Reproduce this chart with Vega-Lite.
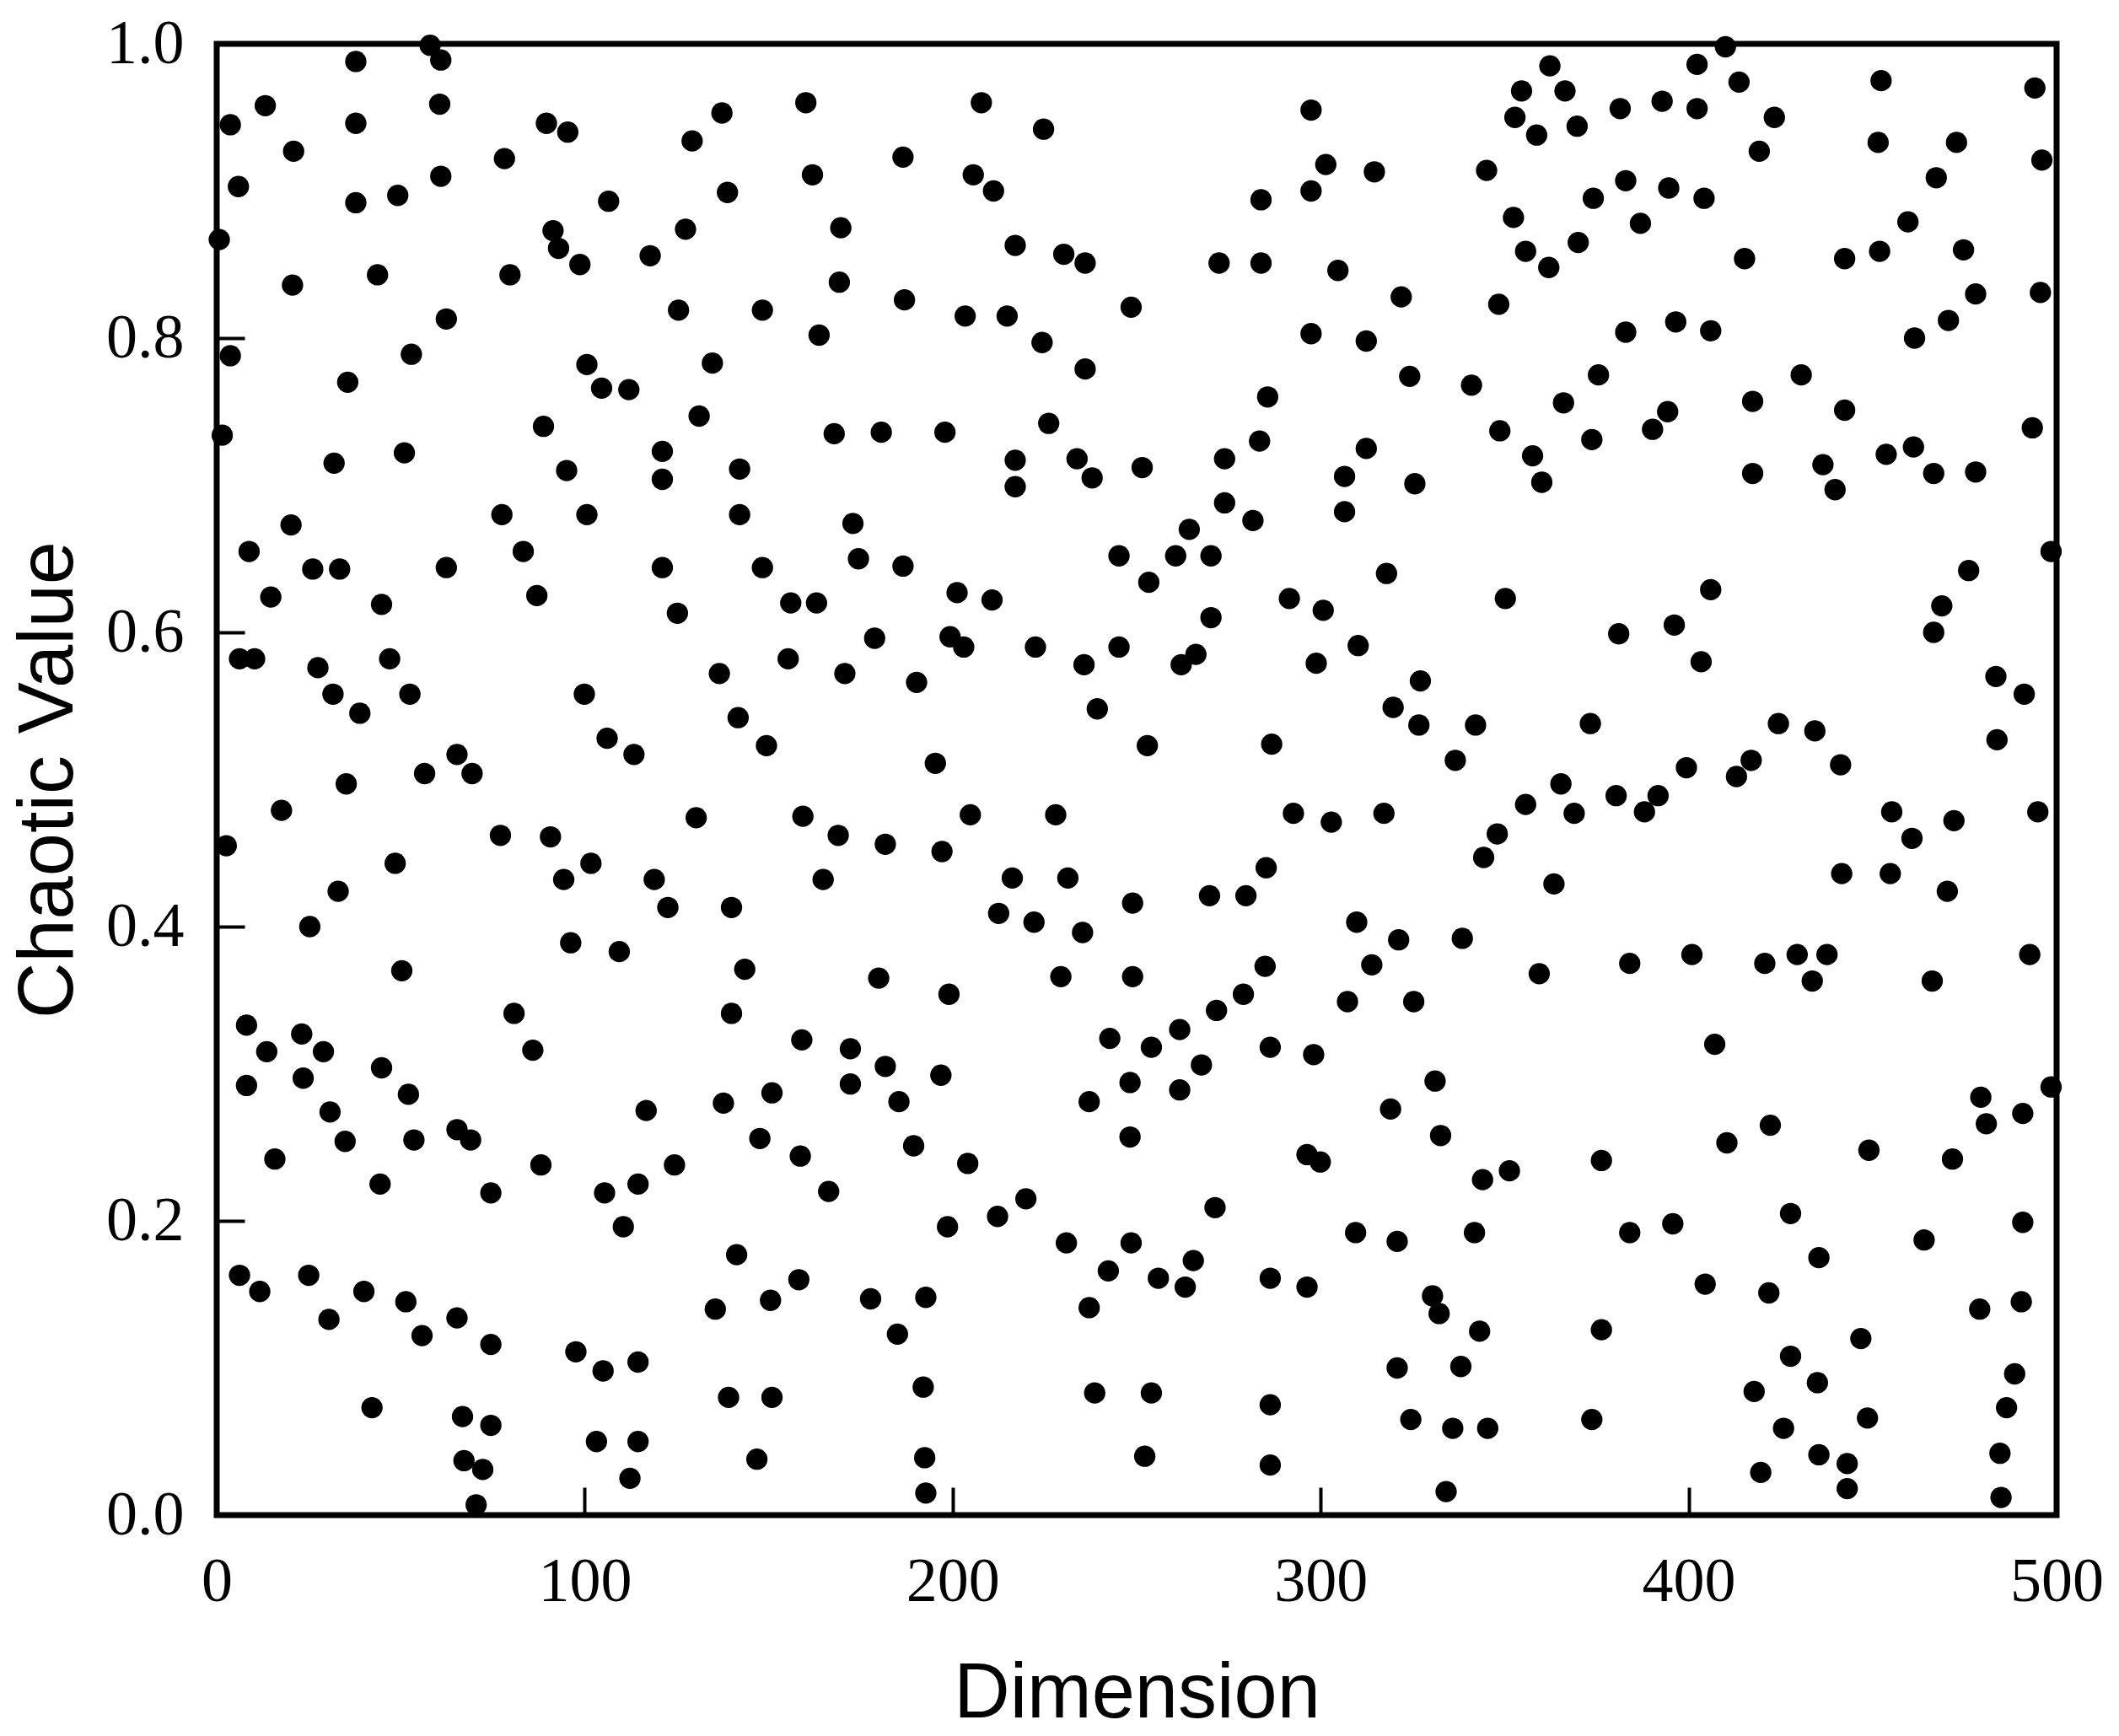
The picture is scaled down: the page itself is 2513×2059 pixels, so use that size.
{
  "$schema": "https://vega.github.io/schema/vega-lite/v6.json",
  "autosize": "none",
  "width": 2182,
  "height": 1745,
  "padding": {"left": 257, "top": 52, "right": 74, "bottom": 262},
  "background": "white",
  "config": {
    "view": {"stroke": "black", "strokeWidth": 7},
    "axis": {
      "grid": false,
      "domain": false,
      "tickColor": "black",
      "tickWidth": 4,
      "tickSize": -33,
      "labelFont": "Liberation Serif",
      "labelFontSize": 74,
      "labelColor": "black",
      "titleFont": "Liberation Sans",
      "titleFontSize": 92,
      "titleFontWeight": "normal",
      "titleColor": "black"
    }
  },
  "data": {"values": [
{"d":0.7,"v":0.867},{"d":1.5,"v":0.734},{"d":2.6,"v":0.455},{"d":3.7,"v":0.945},{"d":3.7,"v":0.788},{"d":5.9,"v":0.903},{"d":6.2,"v":0.582},{"d":6.2,"v":0.163},{"d":8.1,"v":0.333},{"d":8.1,"v":0.292},
{"d":8.8,"v":0.655},{"d":10.3,"v":0.582},{"d":11.7,"v":0.152},{"d":13.2,"v":0.958},{"d":13.6,"v":0.315},{"d":14.7,"v":0.624},{"d":15.8,"v":0.242},{"d":17.6,"v":0.479},{"d":20.2,"v":0.673},{"d":20.6,"v":0.836},
{"d":20.9,"v":0.927},{"d":23.1,"v":0.327},{"d":23.5,"v":0.297},{"d":25.0,"v":0.163},{"d":25.3,"v":0.400},{"d":26.1,"v":0.643},{"d":27.5,"v":0.576},{"d":29.0,"v":0.315},{"d":30.5,"v":0.133},{"d":30.8,"v":0.274},
{"d":31.6,"v":0.558},{"d":31.9,"v":0.715},{"d":33.0,"v":0.424},{"d":33.4,"v":0.643},{"d":34.9,"v":0.254},{"d":35.2,"v":0.497},{"d":35.6,"v":0.770},{"d":37.8,"v":0.988},{"d":37.8,"v":0.946},{"d":37.8,"v":0.892},
{"d":38.9,"v":0.545},{"d":40.0,"v":0.152},{"d":42.2,"v":0.073},{"d":43.7,"v":0.843},{"d":44.4,"v":0.225},{"d":44.8,"v":0.304},{"d":44.8,"v":0.619},{"d":47.0,"v":0.582},{"d":48.5,"v":0.443},{"d":49.2,"v":0.897},
{"d":50.3,"v":0.370},{"d":51.0,"v":0.722},{"d":51.4,"v":0.145},{"d":52.1,"v":0.286},{"d":52.5,"v":0.558},{"d":52.9,"v":0.789},{"d":53.6,"v":0.255},{"d":55.8,"v":0.122},{"d":56.5,"v":0.504},{"d":58.0,"v":0.999},
{"d":60.6,"v":0.959},{"d":60.9,"v":0.989},{"d":60.9,"v":0.910},{"d":62.4,"v":0.813},{"d":62.4,"v":0.644},{"d":65.3,"v":0.517},{"d":65.3,"v":0.262},{"d":65.3,"v":0.134},{"d":66.8,"v":0.067},{"d":67.2,"v":0.037},
{"d":69.0,"v":0.255},{"d":69.4,"v":0.504},{"d":70.5,"v":0.007},{"d":72.3,"v":0.031},{"d":74.5,"v":0.219},{"d":74.5,"v":0.116},{"d":74.5,"v":0.061},{"d":77.1,"v":0.462},{"d":77.5,"v":0.680},{"d":78.2,"v":0.922},
{"d":79.7,"v":0.843},{"d":80.8,"v":0.341},{"d":83.3,"v":0.655},{"d":85.9,"v":0.316},{"d":87.0,"v":0.625},{"d":88.1,"v":0.238},{"d":88.8,"v":0.740},{"d":89.6,"v":0.946},{"d":90.7,"v":0.461},{"d":91.4,"v":0.873},
{"d":92.9,"v":0.861},{"d":94.3,"v":0.432},{"d":95.1,"v":0.710},{"d":95.4,"v":0.940},{"d":96.2,"v":0.389},{"d":97.6,"v":0.111},{"d":98.7,"v":0.850},{"d":99.9,"v":0.558},{"d":100.6,"v":0.782},{"d":100.6,"v":0.680},
{"d":101.7,"v":0.443},{"d":103.2,"v":0.050},{"d":104.6,"v":0.766},{"d":105.0,"v":0.098},{"d":105.4,"v":0.219},{"d":106.1,"v":0.528},{"d":106.5,"v":0.893},{"d":109.4,"v":0.383},{"d":110.5,"v":0.196},{"d":112.0,"v":0.765},
{"d":112.3,"v":0.025},{"d":113.4,"v":0.517},{"d":114.5,"v":0.225},{"d":114.5,"v":0.104},{"d":114.5,"v":0.050},{"d":116.7,"v":0.275},{"d":117.8,"v":0.856},{"d":118.9,"v":0.432},{"d":121.1,"v":0.723},{"d":121.1,"v":0.704},
{"d":121.1,"v":0.644},{"d":122.6,"v":0.413},{"d":124.4,"v":0.238},{"d":125.2,"v":0.613},{"d":125.5,"v":0.819},{"d":127.4,"v":0.874},{"d":129.2,"v":0.934},{"d":130.3,"v":0.474},{"d":131.1,"v":0.747},{"d":134.7,"v":0.783},
{"d":135.5,"v":0.140},{"d":136.6,"v":0.572},{"d":137.3,"v":0.953},{"d":137.7,"v":0.280},{"d":138.8,"v":0.899},{"d":139.1,"v":0.080},{"d":139.9,"v":0.341},{"d":139.9,"v":0.413},{"d":141.3,"v":0.177},{"d":141.7,"v":0.542},
{"d":142.1,"v":0.711},{"d":142.1,"v":0.680},{"d":143.5,"v":0.371},{"d":146.8,"v":0.038},{"d":147.6,"v":0.256},{"d":148.3,"v":0.819},{"d":148.3,"v":0.644},{"d":149.4,"v":0.523},{"d":150.5,"v":0.146},{"d":150.9,"v":0.080},
{"d":150.9,"v":0.287},{"d":155.3,"v":0.582},{"d":156.0,"v":0.620},{"d":158.2,"v":0.160},{"d":158.6,"v":0.244},{"d":159.0,"v":0.323},{"d":159.3,"v":0.475},{"d":160.1,"v":0.960},{"d":161.9,"v":0.911},{"d":163.0,"v":0.620},
{"d":163.7,"v":0.802},{"d":164.8,"v":0.432},{"d":166.3,"v":0.220},{"d":167.8,"v":0.735},{"d":168.9,"v":0.462},{"d":169.2,"v":0.838},{"d":169.6,"v":0.875},{"d":170.7,"v":0.572},{"d":172.2,"v":0.317},{"d":172.2,"v":0.293},
{"d":172.9,"v":0.674},{"d":174.4,"v":0.650},{"d":177.7,"v":0.147},{"d":178.8,"v":0.596},{"d":179.9,"v":0.365},{"d":180.6,"v":0.736},{"d":181.7,"v":0.456},{"d":181.7,"v":0.305},{"d":185.0,"v":0.123},{"d":185.4,"v":0.281},
{"d":186.5,"v":0.645},{"d":186.5,"v":0.923},{"d":186.9,"v":0.826},{"d":189.4,"v":0.251},{"d":190.2,"v":0.566},{"d":192.0,"v":0.087},{"d":192.4,"v":0.039},{"d":192.7,"v":0.148},{"d":192.7,"v":0.015},{"d":195.3,"v":0.511},
{"d":196.8,"v":0.299},{"d":197.1,"v":0.451},{"d":197.9,"v":0.736},{"d":198.6,"v":0.196},{"d":199.0,"v":0.354},{"d":199.3,"v":0.597},{"d":201.2,"v":0.627},{"d":203.0,"v":0.590},{"d":203.4,"v":0.815},{"d":204.1,"v":0.239},
{"d":204.8,"v":0.476},{"d":205.6,"v":0.911},{"d":207.8,"v":0.960},{"d":211.1,"v":0.900},{"d":210.7,"v":0.622},{"d":212.2,"v":0.203},{"d":212.5,"v":0.409},{"d":214.8,"v":0.815},{"d":216.2,"v":0.433},{"d":217.0,"v":0.717},
{"d":217.0,"v":0.699},{"d":217.0,"v":0.863},{"d":219.9,"v":0.215},{"d":222.1,"v":0.403},{"d":222.5,"v":0.590},{"d":224.3,"v":0.797},{"d":224.7,"v":0.942},{"d":226.1,"v":0.742},{"d":228.0,"v":0.476},{"d":229.4,"v":0.366},
{"d":230.9,"v":0.185},{"d":231.3,"v":0.433},{"d":230.2,"v":0.857},{"d":233.8,"v":0.718},{"d":235.3,"v":0.396},{"d":235.7,"v":0.578},{"d":236.0,"v":0.779},{"d":236.0,"v":0.851},{"d":237.1,"v":0.281},{"d":237.1,"v":0.141},
{"d":237.9,"v":0.705},{"d":238.6,"v":0.083},{"d":239.3,"v":0.548},{"d":242.3,"v":0.166},{"d":242.7,"v":0.324},{"d":245.2,"v":0.652},{"d":245.2,"v":0.590},{"d":248.5,"v":0.821},{"d":248.9,"v":0.416},{"d":248.9,"v":0.366},
{"d":248.2,"v":0.294},{"d":248.2,"v":0.257},{"d":248.5,"v":0.185},{"d":251.5,"v":0.712},{"d":252.2,"v":0.040},{"d":252.9,"v":0.523},{"d":253.3,"v":0.634},{"d":254.0,"v":0.318},{"d":254.0,"v":0.083},{"d":255.9,"v":0.161},
{"d":260.6,"v":0.652},{"d":261.7,"v":0.330},{"d":262.1,"v":0.578},{"d":261.7,"v":0.289},{"d":263.2,"v":0.155},{"d":264.3,"v":0.670},{"d":265.4,"v":0.173},{"d":266.1,"v":0.585},{"d":267.6,"v":0.306},{"d":269.8,"v":0.421},
{"d":270.2,"v":0.652},{"d":270.2,"v":0.610},{"d":271.3,"v":0.209},{"d":271.7,"v":0.343},{"d":272.4,"v":0.851},{"d":273.9,"v":0.718},{"d":273.9,"v":0.688},{"d":279.0,"v":0.354},{"d":279.7,"v":0.421},{"d":281.6,"v":0.676},
{"d":283.4,"v":0.730},{"d":283.8,"v":0.894},{"d":283.8,"v":0.851},{"d":284.9,"v":0.373},{"d":285.2,"v":0.440},{"d":285.6,"v":0.760},{"d":286.3,"v":0.161},{"d":286.3,"v":0.318},{"d":286.7,"v":0.524},{"d":286.3,"v":0.075},
{"d":286.3,"v":0.034},{"d":291.5,"v":0.623},{"d":292.6,"v":0.477},{"d":296.3,"v":0.245},{"d":296.3,"v":0.155},{"d":297.4,"v":0.955},{"d":297.4,"v":0.900},{"d":297.4,"v":0.803},{"d":298.1,"v":0.313},{"d":298.8,"v":0.579},
{"d":299.9,"v":0.240},{"d":300.7,"v":0.615},{"d":301.4,"v":0.918},{"d":302.9,"v":0.471},{"d":304.7,"v":0.846},{"d":306.5,"v":0.706},{"d":306.5,"v":0.682},{"d":307.3,"v":0.349},{"d":309.5,"v":0.192},{"d":309.8,"v":0.403},
{"d":310.2,"v":0.591},{"d":312.4,"v":0.798},{"d":312.4,"v":0.725},{"d":313.9,"v":0.374},{"d":314.6,"v":0.913},{"d":317.2,"v":0.477},{"d":317.9,"v":0.640},{"d":319.0,"v":0.276},{"d":319.7,"v":0.549},{"d":320.8,"v":0.186},
{"d":320.8,"v":0.100},{"d":321.2,"v":0.391},{"d":321.9,"v":0.828},{"d":324.2,"v":0.774},{"d":324.5,"v":0.065},{"d":325.3,"v":0.349},{"d":325.6,"v":0.701},{"d":327.1,"v":0.567},{"d":326.7,"v":0.537},{"d":330.4,"v":0.149},
{"d":331.1,"v":0.295},{"d":332.2,"v":0.137},{"d":332.6,"v":0.258},{"d":334.1,"v":0.016},{"d":335.9,"v":0.059},{"d":336.6,"v":0.513},{"d":338.1,"v":0.101},{"d":338.5,"v":0.392},{"d":341.0,"v":0.768},{"d":341.8,"v":0.192},
{"d":342.1,"v":0.537},{"d":343.2,"v":0.125},{"d":344.0,"v":0.228},{"d":344.3,"v":0.447},{"d":345.1,"v":0.914},{"d":345.4,"v":0.059},{"d":348.0,"v":0.463},{"d":348.4,"v":0.823},{"d":348.7,"v":0.737},{"d":350.2,"v":0.623},
{"d":351.3,"v":0.234},{"d":352.4,"v":0.882},{"d":352.8,"v":0.950},{"d":354.6,"v":0.968},{"d":355.7,"v":0.859},{"d":355.7,"v":0.483},{"d":357.6,"v":0.720},{"d":358.7,"v":0.938},{"d":359.4,"v":0.368},{"d":360.1,"v":0.702},
{"d":362.3,"v":0.985},{"d":362.0,"v":0.848},{"d":363.4,"v":0.429},{"d":365.3,"v":0.497},{"d":366.0,"v":0.756},{"d":366.4,"v":0.968},{"d":368.9,"v":0.477},{"d":369.7,"v":0.944},{"d":370.0,"v":0.865},{"d":373.3,"v":0.538},
{"d":373.7,"v":0.731},{"d":373.7,"v":0.065},{"d":374.1,"v":0.895},{"d":375.5,"v":0.775},{"d":376.3,"v":0.126},{"d":376.3,"v":0.241},{"d":380.3,"v":0.489},{"d":381.0,"v":0.599},{"d":381.4,"v":0.956},{"d":382.9,"v":0.804},
{"d":382.9,"v":0.907},{"d":384.0,"v":0.375},{"d":384.0,"v":0.192},{"d":386.9,"v":0.878},{"d":388.0,"v":0.478},{"d":390.2,"v":0.738},{"d":391.7,"v":0.489},{"d":392.8,"v":0.961},{"d":394.3,"v":0.750},{"d":394.6,"v":0.902},
{"d":396.1,"v":0.605},{"d":395.7,"v":0.198},{"d":396.5,"v":0.811},{"d":399.4,"v":0.508},{"d":400.9,"v":0.381},{"d":402.3,"v":0.986},{"d":402.3,"v":0.956},{"d":403.4,"v":0.580},{"d":404.2,"v":0.895},{"d":404.5,"v":0.157},
{"d":406.0,"v":0.805},{"d":406.0,"v":0.629},{"d":407.1,"v":0.320},{"d":410.0,"v":0.998},{"d":410.4,"v":0.253},{"d":413.0,"v":0.502},{"d":413.7,"v":0.974},{"d":415.2,"v":0.854},{"d":417.0,"v":0.513},{"d":417.4,"v":0.757},
{"d":417.4,"v":0.708},{"d":417.8,"v":0.084},{"d":419.2,"v":0.927},{"d":419.6,"v":0.029},{"d":420.7,"v":0.375},{"d":421.8,"v":0.151},{"d":422.2,"v":0.265},{"d":423.3,"v":0.950},{"d":424.4,"v":0.538},{"d":425.8,"v":0.059},
{"d":427.7,"v":0.205},{"d":427.7,"v":0.108},{"d":429.5,"v":0.381},{"d":430.6,"v":0.775},{"d":433.6,"v":0.363},{"d":434.3,"v":0.533},{"d":435.4,"v":0.175},{"d":435.0,"v":0.090},{"d":435.4,"v":0.041},{"d":436.5,"v":0.714},
{"d":437.6,"v":0.381},{"d":439.8,"v":0.697},{"d":441.3,"v":0.510},{"d":441.6,"v":0.436},{"d":442.4,"v":0.751},{"d":442.4,"v":0.854},{"d":443.1,"v":0.035},{"d":443.1,"v":0.018},{"d":446.8,"v":0.120},{"d":448.6,"v":0.066},
{"d":449.0,"v":0.248},{"d":451.5,"v":0.933},{"d":451.9,"v":0.859},{"d":452.3,"v":0.975},{"d":453.7,"v":0.721},{"d":454.8,"v":0.436},{"d":455.2,"v":0.478},{"d":459.6,"v":0.879},{"d":460.7,"v":0.460},{"d":461.1,"v":0.726},
{"d":461.4,"v":0.800},{"d":464.0,"v":0.187},{"d":466.6,"v":0.708},{"d":466.2,"v":0.363},{"d":466.6,"v":0.600},{"d":467.3,"v":0.909},{"d":468.8,"v":0.618},{"d":470.3,"v":0.424},{"d":470.6,"v":0.812},{"d":471.7,"v":0.242},
{"d":472.1,"v":0.472},{"d":472.8,"v":0.933},{"d":474.7,"v":0.860},{"d":476.1,"v":0.642},{"d":478.0,"v":0.830},{"d":478.0,"v":0.709},{"d":479.1,"v":0.140},{"d":479.4,"v":0.284},{"d":480.9,"v":0.266},{"d":483.5,"v":0.570},
{"d":483.8,"v":0.527},{"d":484.6,"v":0.042},{"d":484.9,"v":0.012},{"d":486.4,"v":0.073},{"d":488.6,"v":0.096},{"d":490.4,"v":0.145},{"d":490.8,"v":0.199},{"d":490.8,"v":0.273},{"d":491.2,"v":0.558},{"d":492.7,"v":0.381},
{"d":493.4,"v":0.739},{"d":494.1,"v":0.970},{"d":494.9,"v":0.478},{"d":495.6,"v":0.831},{"d":496.0,"v":0.921},{"d":498.5,"v":0.655},{"d":498.5,"v":0.291}
  ]},
  "mark": {"type": "circle", "color": "black", "opacity": 1, "size": 640, "clip": false},
  "encoding": {
    "x": {
      "field": "d", "type": "quantitative", "title": "Dimension",
      "scale": {"domain": [0, 500], "nice": false, "zero": false},
      "axis": {"values": [0, 100, 200, 300, 400, 500], "labelPadding": 76, "titlePadding": 50, "labelFlush": false, "labelOverlap": false}
    },
    "y": {
      "field": "v", "type": "quantitative", "title": "Chaotic Value",
      "scale": {"domain": [0, 1], "nice": false, "zero": false},
      "axis": {"values": [0, 0.2, 0.4, 0.6, 0.8, 1.0], "format": ".1f", "labelPadding": 72, "titlePadding": 21, "labelFlush": false, "labelOverlap": false}
    }
  }
}
